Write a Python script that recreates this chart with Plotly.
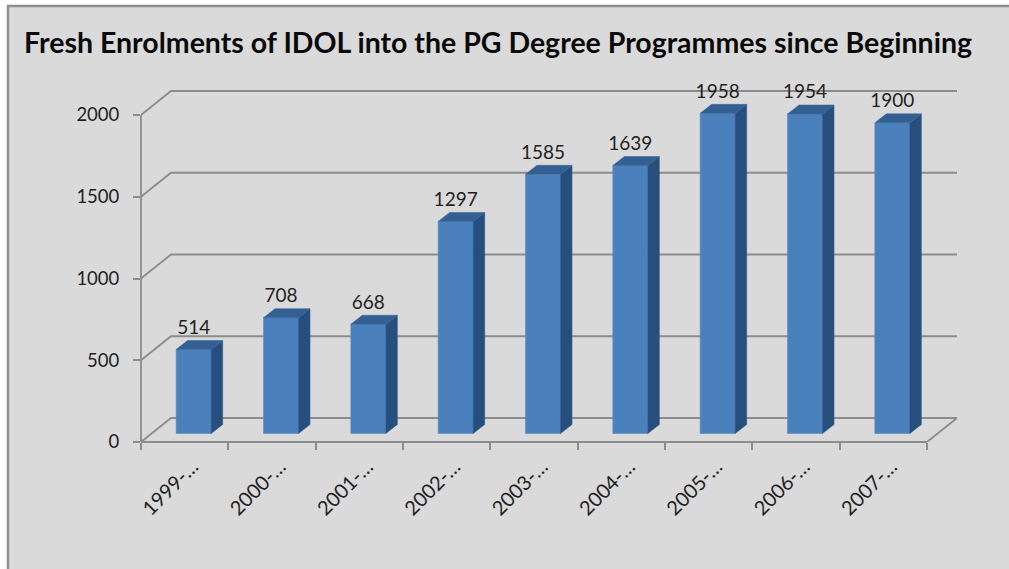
import plotly.graph_objects as go

categories = ["1999-2000", "2000-2001", "2001-2002", "2002-2003", "2003-2004",
              "2004-2005", "2005-2006", "2006-2007", "2007-2008"]
tick_labels = ["1999-…", "2000-…", "2001-…", "2002-…", "2003-…", "2004-…", "2005-…", "2006-…", "2007-…"]
enrolments = [514, 708, 668, 1297, 1585, 1639, 1958, 1954, 1900]
y_ticks = [0, 500, 1000, 1500, 2000]
title_text = "Fresh Enrolments of IDOL into the PG Degree Programmes since Beginning"

W, H = 1009, 569
L, R, T, B = 141, 927, 115, 442   # front plane of the chart, in pixels
PR, PT = 970, 60                  # extended plot box so the back wall and labels fit
xpx = (R - L) / 9
ypx = (B - T) / 2000
FONT = "Lato"
TXT = "#1f1f1f"
GRID = "#8c8c8c"
BG = "#dadada"
LW = 1.8

wall_dx, wall_dy = 30 / xpx, 24 / ypx
depth_dx, depth_dy = 11.5 / xpx, 9 / ypx
bar_w = 35 / xpx
bar_off = 9 / xpx
bar_base = 8.5 / ypx
xs = list(range(len(enrolments)))
xc = [i + bar_off for i in xs]
x_range = [-0.5, 8.5 + (PR - R) / xpx]
y_range = [0, 2000 + (T - PT) / ypx]

fig = go.Figure()

fig.add_trace(go.Bar(x=xc, y=enrolments, base=bar_base, width=bar_w,
                     marker=dict(color="#4a81bc", line=dict(color="#5a8cc2", width=0.6)),
                     showlegend=False, name="Enrolments"))

sx, sy, tx, ty = [], [], [], []
for c, v in zip(xc, enrolments):
    r = c + bar_w / 2
    l = c - bar_w / 2
    top = v + bar_base
    sx += [r, r + depth_dx, r + depth_dx, r, r, None]
    sy += [bar_base, bar_base + depth_dy, top + depth_dy, top, bar_base, None]
    tx += [l, r, r + depth_dx, l + depth_dx, l, None]
    ty += [top, top, top + depth_dy, top + depth_dy, top, None]
fig.add_trace(go.Scatter(x=sx, y=sy, mode="lines", fill="toself", fillcolor="#264f7e",
                         line=dict(color="#2f5a8a", width=0.6), hoverinfo="skip", showlegend=False))
fig.add_trace(go.Scatter(x=tx, y=ty, mode="lines", fill="toself", fillcolor="#335f92",
                         line=dict(color="#3d6a9c", width=0.6), hoverinfo="skip", showlegend=False))

fig.add_trace(go.Scatter(x=xc, y=[v + bar_base + 11 / ypx for v in enrolments], mode="text",
                         text=[str(v) for v in enrolments], textposition="top center",
                         textfont=dict(family=FONT, size=19, color=TXT),
                         hoverinfo="skip", showlegend=False))

# back wall, floor and axis lines
line = dict(color=GRID, width=LW)
shapes = [dict(type="rect", xref="paper", yref="paper",
               x0=(8 - L) / (PR - L), x1=(W + 20 - L) / (PR - L),
               y0=(B - H - 20) / (B - PT), y1=(B - 6) / (B - PT),
               fillcolor=BG, line=dict(color="#8f8f8f", width=2.4), layer="below")]
for v in y_ticks:
    path = f"M -0.5 {v} L {-0.5 + wall_dx} {v + wall_dy} L {8.5 + wall_dx} {v + wall_dy}"
    shapes.append(dict(type="path", xref="x", yref="y", path=path, line=line, layer="below"))
shapes.append(dict(type="line", xref="x", yref="y", x0=8.5, x1=8.5 + wall_dx, y0=0, y1=wall_dy,
                   line=line, layer="below"))
shapes.append(dict(type="line", xref="paper", yref="y", x0=0, x1=0, y0=0, y1=2000, line=line, layer="below"))
shapes.append(dict(type="line", xref="x", yref="paper", x0=-0.5, x1=8.5, y0=0, y1=0, line=line, layer="below"))

fig.update_layout(
    width=W, height=H, autosize=False,
    margin=dict(l=L, r=W - PR, t=PT, b=H - B, pad=0),
    paper_bgcolor="white", plot_bgcolor="rgba(0,0,0,0)",
    font=dict(family=FONT, color=TXT),
    title=dict(text="<b>" + title_text + "</b>", x=24 / W, xanchor="left", xref="container",
               y=1 - 43 / H, yanchor="middle", yref="container",
               font=dict(family=FONT, size=28.5, color="#0a0a0a")),
    xaxis=dict(range=x_range, tickmode="array", tickvals=xs, ticktext=tick_labels,
               ticklen=0, tickangle=-45, ticklabelshift=8, ticklabelstandoff=8,
               tickfont=dict(family=FONT, size=20, color=TXT),
               showline=False, showgrid=False, zeroline=False, fixedrange=True,
               minor=dict(tickmode="array", tickvals=[i - 0.5 for i in range(10)], ticks="outside",
                          ticklen=7, tickcolor=GRID, tickwidth=LW, showgrid=False)),
    yaxis=dict(range=y_range, tickmode="array", tickvals=y_ticks, ticks="outside", ticklen=7,
               tickcolor=GRID, tickwidth=LW, ticklabelstandoff=10,
               tickfont=dict(family=FONT, size=18.5, color=TXT),
               showline=False, showgrid=False, zeroline=False, fixedrange=True),
    barmode="overlay",
    shapes=shapes,
)
fig.write_html("out.html", config={"displayModeBar": False},
               post_script="document.body.style.margin='0';document.body.style.overflow='hidden';")
